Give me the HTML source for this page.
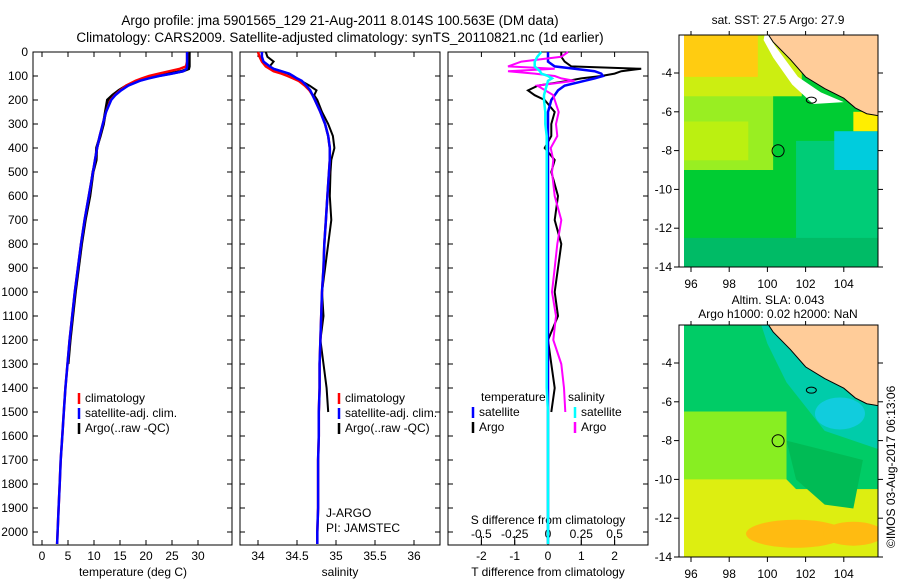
<!DOCTYPE html>
<html><head><meta charset="utf-8"><style>
body{margin:0;background:#fff}
svg{display:block;font-family:"Liberation Sans",sans-serif}
text{font-size:12px;fill:#000}
</style></head><body>
<svg id="c" width="900" height="580" viewBox="0 0 900 580" xmlns="http://www.w3.org/2000/svg">
<text x="340" y="25" text-anchor="middle" style="font-size:13.5px">Argo profile: jma 5901565_129 21-Aug-2011 8.014S 100.563E (DM data)</text>
<text x="340" y="42" text-anchor="middle" style="font-size:13.5px">Climatology: CARS2009. Satellite-adjusted climatology: synTS_20110821.nc (1d earlier)</text>
<g id="maps"></g>
<g id="plots"></g>
</svg>
<script>
const depths=[0,20,40,60,70,80,90,100,110,120,140,160,180,200,250,300,350,400,450,500,600,700,800,900,1000,1100,1200,1300,1400,1500,1600,1700,1800,1900,2000,2050];
const tempClim=[27.9,27.9,27.9,27.7,26.5,24.5,22.5,20.6,19.2,18.0,16.2,15.0,14.0,13.2,12.3,11.7,11.1,10.6,10.2,9.8,9.0,8.2,7.5,6.9,6.3,5.8,5.3,4.9,4.5,4.2,3.9,3.6,3.4,3.2,3.0,2.9];
const tempSat=[27.9,27.9,27.9,27.9,27.8,27.2,25.0,22.5,20.5,18.8,16.6,15.2,14.1,13.3,12.3,11.7,11.1,10.6,10.2,9.8,9.0,8.2,7.5,6.9,6.3,5.8,5.3,4.9,4.5,4.2,3.9,3.6,3.4,3.2,3.0,2.9];
const tempArgo=[28.3,28.3,28.3,28.3,28.2,27.0,24.5,22.0,20.0,18.5,16.3,14.8,13.6,12.6,12.2,11.8,11.2,10.5,10.4,9.8,9.2,8.3,7.6,7.0,6.4,5.9,5.4,5.0];
const salClim=[34.0,34.02,34.05,34.1,34.15,34.2,34.3,34.38,34.45,34.52,34.6,34.66,34.7,34.73,34.8,34.86,34.9,34.92,34.92,34.91,34.89,34.87,34.85,34.84,34.82,34.81,34.8,34.79,34.79,34.78,34.78,34.77,34.77,34.77,34.76,34.76];
const salSat=[34.05,34.05,34.07,34.15,34.2,34.3,34.4,34.45,34.5,34.56,34.62,34.67,34.7,34.73,34.8,34.86,34.9,34.92,34.92,34.91,34.89,34.87,34.85,34.84,34.82,34.81,34.8,34.79,34.79,34.78,34.78,34.77,34.77,34.77,34.76,34.76];
const salArgo=[34.1,34.12,34.2,34.15,34.2,34.3,34.38,34.45,34.5,34.55,34.66,34.75,34.72,34.76,34.82,34.9,34.96,34.98,34.94,34.93,34.92,34.94,34.9,34.86,34.82,34.84,34.8,34.84,34.88,34.9];
const dTsat=[0,0,0,0.2,0.8,1.4,1.6,1.65,1.4,1.1,0.5,0.3,0.2,0.1,0,0,0,0,0,0,0,0,0,0,0,0,0,0,0,0,0,0,0,0,0,0];
const dTargo=[0.4,0.4,0.5,0.7,2.8,2.2,2.0,1.6,1.0,0.6,-0.3,-0.6,-0.4,-0.1,0.2,0.1,0.1,-0.1,0.2,0.1,0.3,0.2,0.4,0.3,0.2,0.3,0,0.1,0.2,0.1];
const dSsat=[-0.05,-0.08,-0.1,-0.1,-0.08,-0.06,-0.05,0,0.03,0,-0.01,-0.02,-0.03,-0.03,-0.02,-0.02,-0.01,-0.01,-0.01,-0.01,-0.01,-0.01,-0.01,-0.01,-0.01,-0.01,-0.01,-0.01,-0.01,0,0,0,0,0,0,0];
const dSargo=[0.15,0.1,-0.2,-0.3,0.05,-0.3,-0.1,0.05,0.1,0.2,-0.08,-0.02,0.04,0.05,0.08,0.06,0.07,0.02,0.04,0.03,0.05,0.1,0.07,0.05,0.03,0.06,0.04,0.1,0.12,0.13];
const depthTicks=[0,100,200,300,400,500,600,700,800,900,1000,1100,1200,1300,1400,1500,1600,1700,1800,1900,2000];
const tempTicks=[0,5,10,15,20,25,30];
const salTicks=[34,34.5,35,35.5,36];
const dTTicks=[-2,-1,0,1,2];
const dSTicks=["-0.5","-0.25","0","0.25","0.5"];
const mapLonTicks=[96,98,100,102,104];
const mapLatTicks=[-4,-6,-8,-10,-12,-14];

const NS='http://www.w3.org/2000/svg';
const P=document.getElementById('plots');
function el(t,a,p){const e=document.createElementNS(NS,t);for(const k in a)e.setAttribute(k,a[k]);(p||P).appendChild(e);return e;}
const Y0=52,Y1=545;
const yD=d=>Y0+d*0.24;
function frame(x0,x1,name){
  const r=el('rect',{x:x0,y:Y0,width:x1-x0,height:Y1-Y0,fill:'none',stroke:'#000','stroke-width':1});
  
  
  depthTicks.forEach(d=>{el('line',{x1:x0,x2:x0+5,y1:yD(d),y2:yD(d),stroke:'#000'});el('line',{x1:x1-5,x2:x1,y1:yD(d),y2:yD(d),stroke:'#000'});});
}
function line(xs,ys,vals,fx,color,w,name){
  let d='';vals.forEach((v,i)=>{d+=(i?'L':'M')+fx(v).toFixed(1)+','+yD(ys[i]).toFixed(1);});
  const p=el('path',{d:d,fill:'none',stroke:color,'stroke-width':w});
  
  
}
function txt(x,y,s,anchor,name,size){const t=el('text',{x:x,y:y,'text-anchor':anchor||'start'});if(size)t.style.fontSize=size+'px';t.textContent=s;
  
  return t;}
// panel 1
const xT=t=>42+5.2*t;
frame(33,232,'temperature-panel');
depthTicks.forEach(d=>txt(28,yD(d)+4,String(d),'end','depth-tick-label'));
tempTicks.forEach(t=>{el('line',{x1:xT(t),x2:xT(t),y1:Y1,y2:Y1-5,stroke:'#000'});el('line',{x1:xT(t),x2:xT(t),y1:Y0,y2:Y0+5,stroke:'#000'});txt(xT(t),560,String(t),'middle','temperature-tick-label');});
txt(133,576,'temperature (deg C)','middle','x-axis-title-temperature');
line(depths,depths,tempArgo,xT,'#000',3,'temp-argo-line');
line(depths,depths,tempClim,xT,'#f00',2.5,'temp-climatology-line');
line(depths,depths,tempSat,xT,'#00f',2.5,'temp-satellite-line');
function legend(x,y,items,pre){items.forEach((it,i)=>{el('line',{x1:x,x2:x,y1:y+i*15-9,y2:y+i*15+2,stroke:it[1],'stroke-width':2.5});txt(x+6,y+i*15,it[0],'start',pre+'-legend-entry');});}
legend(79,402,[['climatology','#f00'],['satellite-adj. clim.','#00f'],['Argo(..raw -QC)','#000']],'temp');
// panel 2
const xS=s=>258+78*(s-34);
frame(240,440,'salinity-panel');
salTicks.forEach(t=>{el('line',{x1:xS(t),x2:xS(t),y1:Y1,y2:Y1-5,stroke:'#000'});el('line',{x1:xS(t),x2:xS(t),y1:Y0,y2:Y0+5,stroke:'#000'});txt(xS(t),560,String(t),'middle','salinity-tick-label');});
txt(340,576,'salinity','middle','x-axis-title-salinity');
line(depths,depths,salArgo,xS,'#000',2,'sal-argo-line');
line(depths,depths,salClim,xS,'#f00',2.5,'sal-climatology-line');
line(depths,depths,salSat,xS,'#00f',2.5,'sal-satellite-line');
legend(339,402,[['climatology','#f00'],['satellite-adj. clim.','#00f'],['Argo(..raw -QC)','#000']],'sal');
txt(326,517,'J-ARGO','start','platform-label');
txt(326,532,'PI: JAMSTEC','start','pi-label');
// panel 3
const xdT=v=>548+33.3*v, xdS=v=>548+133.2*v;
frame(448,648,'difference-panel');
dTTicks.forEach(t=>{el('line',{x1:xdT(t),x2:xdT(t),y1:Y1,y2:Y1-5,stroke:'#000'});el('line',{x1:xdT(t),x2:xdT(t),y1:Y0,y2:Y0+5,stroke:'#000'});txt(xdT(t),560,String(t),'middle','t-diff-tick-label');});
dSTicks.forEach(t=>{el('line',{x1:xdS(+t),x2:xdS(+t),y1:Y1,y2:Y1-9,stroke:'#000'});txt(xdS(+t),538,t,'middle','s-diff-tick-label');});
txt(548,524,'S difference from climatology','middle','s-diff-axis-title');
txt(548,576,'T difference from climatology','middle','t-diff-axis-title');
line(depths,depths,dTargo,xdT,'#000',2,'tdiff-argo-line');
line(depths,depths,dTsat,xdT,'#00f',2.5,'tdiff-satellite-line');
line(depths,depths,dSargo,xdS,'#f0f',2,'sdiff-argo-line');
line(depths,depths,dSsat,xdS,'#0ff',2.5,'sdiff-satellite-line');
txt(481,401,'temperature','start','legend-temperature-header');
txt(568,401,'salinity','start','legend-salinity-header');
legend(473,416,[['satellite','#00f'],['Argo','#000']],'tdiff');
legend(575,416,[['satellite','#0ff'],['Argo','#f0f']],'sdiff');

// maps
const M=document.getElementById('maps');
function map(top,name,fills){
  const X=lon=>691+19.1*(lon-96), Yl=lat=>top+38+19.4*(-lat-4);
  const g=el('g',{},M);
  
  
  const id='cp'+top;
  const cp=el('clipPath',{id:id},g);el('rect',{x:679,y:top,width:199,height:232},cp);
  const gi=el('g',{'clip-path':'url(#'+id+')'},g);
  const box=(lo0,lo1,laT,laB,c)=>el('rect',{x:X(lo0),y:Yl(laT),width:X(lo1)-X(lo0),height:Yl(laB)-Yl(laT),fill:c},gi);
  const poly=(pts,c)=>el('polygon',{points:pts.map(p=>X(p[0])+','+Yl(p[1])).join(' '),fill:c},gi);
  fills(box,poly,X,Yl);
  el('rect',{x:679,y:top,width:5,height:232,fill:'#fff'},gi);
  const land=[[99.9,-1.8],[100.3,-2.4],[101.2,-3.3],[102,-4.2],[103,-4.8],[104,-5.3],[104.6,-5.8],[105.2,-6.1],[105.8,-6.2],[105.8,-1.8]];
  el('polygon',{points:land.map(p=>X(p[0])+','+Yl(p[1])).join(' '),fill:'#ffcc99',stroke:'#000','stroke-width':1},gi);
  el('ellipse',{cx:X(102.3),cy:Yl(-5.4),rx:5,ry:3,fill:'none',stroke:'#000'},gi);
  el('rect',{x:679,y:top,width:199,height:232,fill:'none',stroke:'#000'},g);
  el('circle',{cx:X(100.56),cy:Yl(-8.01),r:6,fill:'none',stroke:'#000'},g);
  mapLonTicks.forEach(l=>{el('line',{x1:X(l),x2:X(l),y1:top+232,y2:top+237,stroke:'#000'},g);el('line',{x1:X(l),x2:X(l),y1:top,y2:top-4,stroke:'#000'},g);const t=el('text',{x:X(l),y:top+253,'text-anchor':'middle'},g);t.textContent=l;});
  mapLatTicks.forEach(l=>{el('line',{x1:674,x2:679,y1:Yl(l),y2:Yl(l),stroke:'#000'},g);el('line',{x1:878,x2:883,y1:Yl(l),y2:Yl(l),stroke:'#000'},g);const t=el('text',{x:672,y:Yl(l)+4,'text-anchor':'end'},g);t.textContent=l;});
}
map(35,'sst-map',(box,poly)=>{
  box(95,106,-1.5,-15,'#00cc33');
  box(95,100.3,-5,-9,'#99ee22');
  box(95,99,-6.5,-8.5,'#bbf011');
  box(95,101.8,-1.5,-5.2,'#ccee11');
  box(95,99.5,-1.5,-4.2,'#ffcc11');
  box(101.5,106,-7.5,-15,'#00cc77');
  box(103.5,106,-7,-9,'#00ccdd');
  box(95,106,-12.5,-15,'#00bb66');
  poly([[99.9,-1.8],[100.4,-2.6],[101.6,-4.2],[102.8,-5.0],[104,-5.5],[102.4,-5.6],[101.3,-4.6],[100.3,-3.2],[99.8,-2.3]],'#fff');
  box(104.5,106,-6,-7,'#ffee00');
});
txt(778,24,'sat. SST: 27.5 Argo: 27.9','middle','sst-map-title');
map(325,'sla-map',(box,poly,X,Y)=>{
  box(95,106,-1.5,-15,'#00cc66');
  box(95,101,-6.5,-10.5,'#88ee22');
  box(95,106,-10.5,-15,'#ddee11');
  poly([[101,-10],[102.5,-11.5],[104,-11.5],[106,-11],[106,-15],[95,-15],[95,-10]],'#ddee11');
  el('ellipse',{cx:X(101.5),cy:Y(-12.8),rx:50,ry:14,fill:'#ffbb11'},document.querySelector('#cp325').parentNode.lastChild);
  el('ellipse',{cx:X(104.5),cy:Y(-12.8),rx:30,ry:12,fill:'#ffbb11'},document.querySelector('#cp325').parentNode.lastChild);
  poly([[99.5,-1.5],[106,-1.5],[106,-8.5],[103,-7.5],[101,-5],[100,-3]],'#00ccaa');
  el('ellipse',{cx:X(103.8),cy:Y(-6.6),rx:25,ry:16,fill:'#11ccdd'},document.querySelector('#cp325').parentNode.lastChild);
  poly([[101,-8],[103,-8.5],[105,-9],[104.5,-11.5],[103,-11.3],[101.5,-10]],'#00bb55');
});
(function(){const m=document.getElementById('maps');
function mt(x,y,s,n){const t=document.createElementNS(NS,'text');t.setAttribute('x',x);t.setAttribute('y',y);t.setAttribute('text-anchor','middle');t.textContent=s;

m.appendChild(t);}
mt(778,304,'Altim. SLA: 0.043','sla-map-title');
mt(778,318,'Argo h1000: 0.02 h2000: NaN','sla-argo-height-label');
const r=document.createElementNS(NS,'text');r.setAttribute('transform','translate(895,548) rotate(-90)');r.textContent='©IMOS 03-Aug-2017 06:13:06';

m.appendChild(r);})();
</script>
</body></html>
